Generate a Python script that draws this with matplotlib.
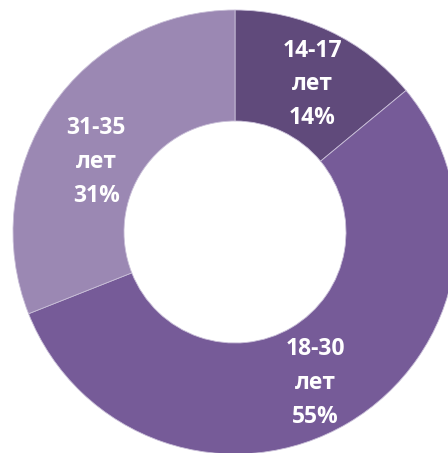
import numpy as np
import matplotlib.pyplot as plt

# age groups and shares (%)
groups = ['14-17', '18-30', '31-35']
shares = [14, 55, 31]
colors = ['#604a7b', '#765b98', '#9b88b3']
unit = 'лет'

plt.rcParams['font.family'] = ['Open Sans', 'DejaVu Sans']

fig = plt.figure(figsize=(4.48, 4.53), dpi=100)
ax = fig.add_axes([0, 0, 1, 1])

cx, cy, R = 235, 221, 222
wedges, _ = ax.pie(shares, colors=colors, startangle=90, counterclock=False,
                   center=(cx, cy), radius=R, frame=True,
                   wedgeprops=dict(width=R * 0.5, edgecolor='#c9bfd8', linewidth=0.6))
ax.set_xlim(0, 448)
ax.set_ylim(0, 453)
ax.set_aspect('equal')
ax.axis('off')

# labels roughly in the middle of each ring segment (small nudges like excel does)
ang_nudge = [-2.4, -2.7, 7.5]
rad_frac = [0.75, 0.77, 0.70]
start = 90
for g, s, da, rf in zip(groups, shares, ang_nudge, rad_frac):
    mid = np.deg2rad(start - s * 360 / 100 / 2 + da)
    start -= s * 360 / 100
    x = cx + rf * R * np.cos(mid)
    y = cy + rf * R * np.sin(mid)
    ax.text(x, y, f'{g}\n{unit}\n{s}%', ha='center', va='center', color='white',
            fontsize=16.5, fontweight='bold', linespacing=1.55)

fig.savefig('out.png', dpi=100)
